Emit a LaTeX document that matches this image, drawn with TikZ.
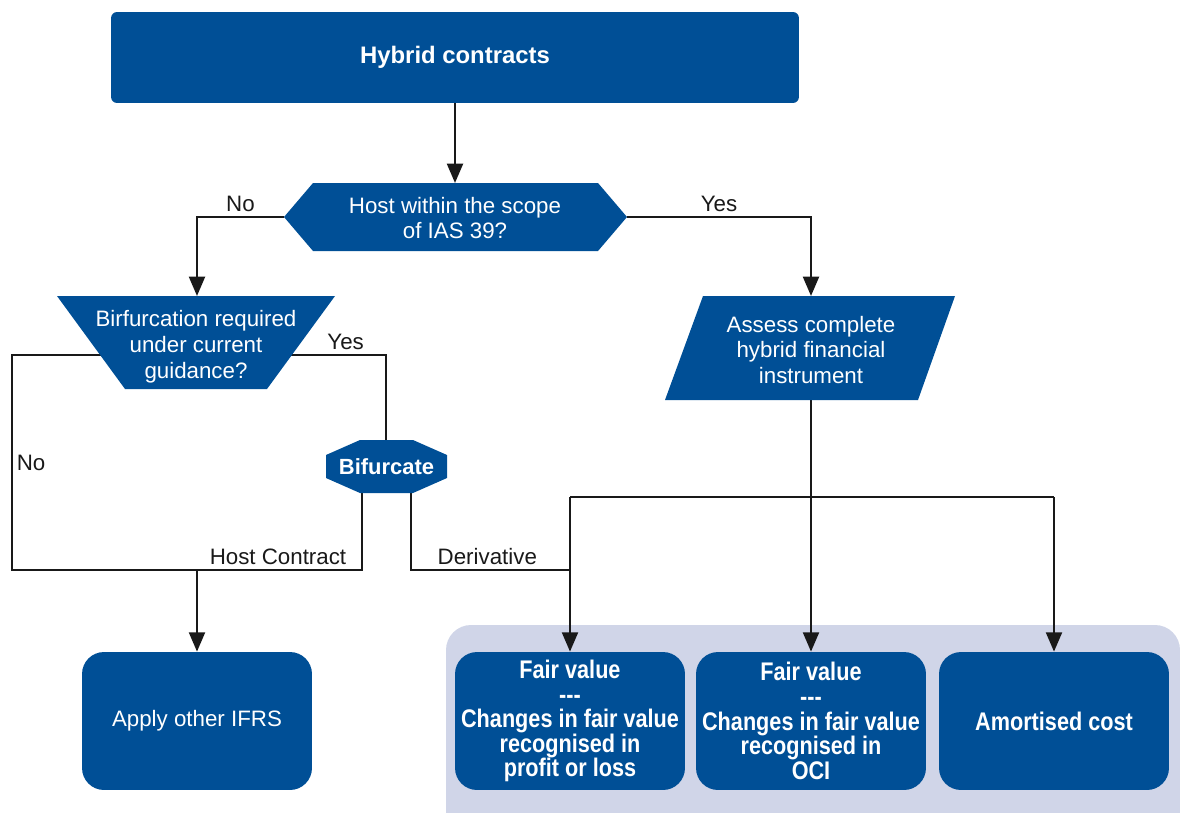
\documentclass[tikz,border=0pt]{standalone}
\usepackage{fontspec}
\setmainfont{Liberation Sans}
\newfontfamily\condfont{Liberation Sans}[FakeStretch=0.85]
\usetikzlibrary{arrows.meta}
\definecolor{kblue}{RGB}{0,79,150}
\definecolor{kpanel}{RGB}{208,213,232}
\colorlet{kline}{black!90}

\begin{document}
\begin{tikzpicture}[x=0.02cm,y=-0.02cm,
    every node/.style={font=\fontsize{12.7}{14.7}\selectfont},
    line/.style={draw=kline,line width=1.5pt},
    arr/.style={line,-{Triangle[length=11pt,width=9pt]}},
    lbl/.style={text=kline,inner sep=2pt},
    intext/.style={text=white,align=center,inner sep=0pt},
    endbox/.style={fill=kblue,rounded corners=0.44cm,minimum width=4.6cm,
        minimum height=2.76cm,text=white,align=center,inner sep=0pt},
    resbox/.style={endbox,font=\condfont\bfseries\fontsize{14.5}{14}\selectfont}]
    \useasboundingbox (0,0) rectangle (1180,812);
    % panel behind the three results
    \fill[kpanel,rounded corners=0.5cm] (446,625) rectangle (1180,850);

    % points on the drawn shapes
    \coordinate (hostT) at (455,183);
    \coordinate (hostL) at (284,217);
    \coordinate (hostR) at (627,217);
    \coordinate (bifqT) at (197,296);
    \coordinate (bifqL) at (110,355);
    \coordinate (bifqR) at (285,355);
    \coordinate (bifT) at (386,440);
    \coordinate (bifBL) at (362,493);
    \coordinate (bifBR) at (411,493);
    \coordinate (assT) at (811,296);
    \coordinate (assB) at (811,400);
    \coordinate (noC) at (12,570);
    \coordinate (hcJ) at (197,570);
    \coordinate (drJ) at (570,570);
    \coordinate (fvJ) at (570,497);
    \coordinate (acJ) at (1054,497);

    \node[fill=kblue,rounded corners=0.12cm,minimum width=13.76cm,minimum height=1.82cm,
        text=white,font=\bfseries\fontsize{13.6}{15}\selectfont] (hybrid) at (455,57.5) {Hybrid contracts};
    \node[endbox] (ifrs) at (197,721) {Apply other IFRS};
    \node[resbox] (fvpl) at (570,721) {Fair value\\---\\Changes in fair value\\recognised in\\profit or loss};
    \node[resbox] (fvoci) at (811,721) {Fair value\\---\\Changes in fair value\\recognised in\\OCI};
    \node[resbox] (amort) at (1054,721) {Amortised cost};

    % connectors
    \draw[arr] (hybrid) -- (hostT);
    \draw[arr] (hostL) -| node[lbl,pos=0.25,above]{No} (bifqT);
    \draw[arr] (hostR) -| node[lbl,pos=0.25,above]{Yes} (assT);
    \draw[line] (bifqL) -| node[lbl,pos=0.75,right]{No} (noC)
        -| node[lbl,pos=0.38,above]{Host Contract} (bifBL);
    \draw[line] (bifqR) -| node[lbl,pos=0.3,above]{Yes} (bifT);
    \draw[line] (bifBR) |- node[lbl,pos=0.74,above]{Derivative} (drJ);
    \draw[arr] (hcJ) -- (ifrs);
    \draw[arr] (assB) -- (fvoci);
    \draw[arr] (fvJ) -- (fvpl);
    \draw[line] (fvJ) -- (acJ);
    \draw[arr] (acJ) -- (amort);

    % decision shapes
    \fill[kblue] (hostL) -- (313,183) -- (598,183) -- (hostR) -- (598,251) -- (313,251) -- cycle;
    \node[intext] (host) at (455,218) {Host within the scope\\of IAS 39?};
    \fill[kblue] (57,296) -- (335,296) -- (267,389) -- (125,389) -- cycle;
    \node[intext] (bifq) at (196,346.5) {Birfurcation required\\under current\\guidance?};
    \fill[kblue] (360,440) -- (413,440) -- (447,455) -- (447,478) -- (413,493)
        -- (360,493) -- (326,478) -- (326,455) -- cycle;
    \node[intext,font=\bfseries\fontsize{12.5}{15}\selectfont] (bif) at (386.5,467) {Bifurcate};
    \fill[kblue] (703,296) -- (955,296) -- (918,400) -- (665,400) -- cycle;
    \node[intext] (assess) at (811,350) {Assess complete\\hybrid financial\\instrument};
\end{tikzpicture}
\end{document}
